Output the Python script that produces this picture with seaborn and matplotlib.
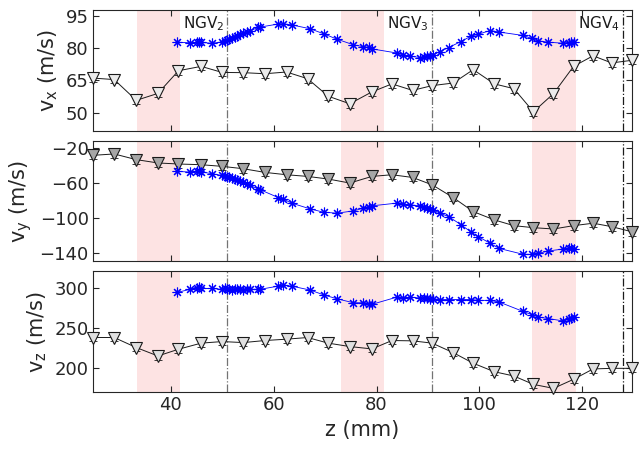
import matplotlib
matplotlib.use('Agg')
import matplotlib.pyplot as plt
import seaborn as sns

# black triangles (coarse grid)
z_tri = [24.8, 29.0, 33.3, 37.5, 41.5, 45.9, 50.0, 54.1, 58.3, 62.5, 66.6, 70.6, 74.8,
         79.1, 83.0, 87.0, 90.8, 94.9, 98.8, 102.9, 106.7, 110.5, 114.4, 118.3, 122.1, 125.7, 129.6]
vx_tri = [66.1, 65.4, 55.8, 59.0, 69.5, 71.5, 68.7, 68.6, 68.1, 68.9, 65.8, 57.7, 54.2,
          59.7, 63.4, 60.4, 62.6, 63.8, 70.0, 63.4, 61.2, 50.5, 58.9, 71.5, 76.4, 73.1, 74.3]
vy_tri = [-28.5, -26.9, -33.4, -37.2, -38.4, -39.2, -41.1, -43.8, -48.0, -50.7, -52.6, -55.6, -60.2,
          -52.6, -50.7, -53.8, -62.2, -76.8, -92.9, -102.4, -109.0, -111.3, -112.8, -109.0, -106.2, -110.1, -115.9]
vz_tri = [238.1, 238.1, 225.4, 214.8, 223.3, 231.0, 233.0, 231.7, 234.3, 236.0, 238.1, 231.0, 226.7,
          223.7, 234.3, 233.9, 231.0, 219.0, 205.6, 194.9, 189.5, 178.9, 173.9, 185.3, 198.4, 199.2, 199.2]

# blue stars (fine grid)
z_star = [41.2, 43.8, 45.0, 45.4, 45.8, 48.0, 49.9, 50.5, 50.9, 51.4, 51.9, 52.4, 52.8, 53.5,
          54.0, 54.8, 55.4, 57.0, 57.4, 60.9, 61.9, 63.5, 67.1, 69.7, 72.3, 75.5, 77.4, 78.6,
          79.1, 83.9, 85.2, 86.5, 88.5, 89.3, 89.8, 90.4, 91.0, 92.3, 94.0, 96.4, 98.3, 99.8,
          102.1, 103.8, 108.5, 110.2, 111.4, 113.4, 116.3, 117.4, 117.9, 118.3]
vx_star = [82.7, 82.4, 82.6, 82.8, 82.6, 82.2, 82.8, 83.2, 83.6, 84.1, 84.7, 85.2, 85.7, 86.4,
           86.8, 87.3, 88.0, 89.5, 89.7, 91.1, 91.2, 90.7, 88.9, 86.6, 84.1, 81.5, 80.6, 80.3,
           79.6, 77.7, 76.7, 76.2, 75.6, 75.8, 76.1, 76.5, 76.9, 78.3, 80.2, 83.0, 85.4, 86.4,
           88.1, 87.4, 85.8, 84.4, 83.3, 82.7, 82.2, 82.5, 82.8, 82.6]
vy_star = [-46.9, -47.6, -46.5, -46.9, -47.3, -49.5, -51.5, -52.3, -53.0, -53.8, -54.5, -55.5, -56.4, -57.8,
           -59.1, -61.2, -63.0, -66.9, -67.9, -76.8, -78.6, -83.2, -89.8, -93.6, -94.7, -92.1, -89.0, -87.5,
           -86.3, -83.2, -84.4, -85.2, -86.3, -87.4, -88.3, -89.6, -90.9, -94.7, -98.6, -107.8, -116.0, -121.6,
           -129.2, -135.0, -141.8, -141.8, -140.7, -138.0, -135.7, -135.0, -134.9, -135.2]
vz_star = [295, 299, 301, 302, 300, 300, 299, 300, 299, 299, 298, 299, 299, 299,
           298, 299, 299, 299, 299, 303, 304, 303, 298, 292, 287, 282, 282, 281,
           280, 289, 288, 289, 288, 288, 288, 287, 287, 286, 286, 286, 286, 285,
           285, 283, 271, 267, 264, 262, 259, 261, 263, 264]

bands = [(33.4, 41.8), (73.1, 81.5), (110.3, 118.8)]
ngv_z = [50.9, 90.7, 127.9]
ngv_labels = ['NGV$_2$', 'NGV$_3$', 'NGV$_4$']
ngv_colors = ['0.45', '0.45', '0.1']

ylabels = ['v$_\\mathregular{x}$ (m/s)', 'v$_\\mathregular{y}$ (m/s)', 'v$_\\mathregular{z}$ (m/s)']
yticks = [[50, 65, 80, 95], [-140, -100, -60, -20], [200, 250, 300]]
ylims = [(41.8, 97.6), (-149.7, -11.6), (169.5, 321.8)]
xticks = [40, 60, 80, 100, 120]

tri_series = [vx_tri, vy_tri, vz_tri]
star_series = [vx_star, vy_star, vz_star]
tri_err = [1.8, 4.5, 4.5]
tri_face = ['0.92', '0.65', '0.88']

sns.set_theme(style='ticks')
plt.rcParams['font.family'] = ['DejaVu Sans']

fig, axes = plt.subplots(3, 1, figsize=(6.4, 4.53), dpi=100, sharex=True,
                         gridspec_kw=dict(hspace=0.083))
fig.subplots_adjust(left=0.145, right=0.987, top=0.978, bottom=0.135)

for i, ax in enumerate(axes):
    for a, b in bands:
        ax.axvspan(a, b, color='#fde3e3', lw=0, zorder=0)
    for zl, c in zip(ngv_z, ngv_colors):
        ax.axvline(zl, color=c, ls='-.', lw=0.9, zorder=1)

    ax.errorbar(z_tri, tri_series[i], yerr=tri_err[i], fmt='none', ecolor='k',
                elinewidth=0.6, capsize=3, capthick=0.6, zorder=3, clip_on=False)
    sns.lineplot(x=z_tri, y=tri_series[i], ax=ax, color='k', lw=0.7, marker='v',
                 markersize=8, markerfacecolor=tri_face[i], markeredgecolor='k',
                 markeredgewidth=0.8, zorder=4, clip_on=False)
    sns.lineplot(x=z_star, y=star_series[i], ax=ax, color='blue', lw=0.6, marker=(8, 2, 0),
                 markersize=7, markeredgecolor='blue', markeredgewidth=0.8, zorder=5)

    ax.set_xlim(24.84, 129.6)
    ax.set_ylim(*ylims[i])
    ax.set_yticks(yticks[i])
    ax.set_xticks(xticks)
    ax.set_ylabel(ylabels[i], fontsize=15, color='0.15', labelpad=4)
    ax.tick_params(direction='in', top=True, right=True, length=4, width=0.8,
                   labelsize=13, colors='0.15', pad=3)
    for s in ax.spines.values():
        s.set_color('0.15')
        s.set_linewidth(0.8)

for zl, lab in zip(ngv_z, ngv_labels):
    axes[0].text(zl - 0.5, 0.96, lab, transform=axes[0].get_xaxis_transform(),
                 ha='right', va='top', fontsize=11, color='0.1')

axes[2].set_xlabel('z (mm)', fontsize=15, color='0.15')

fig.savefig('out.png', dpi=100)
